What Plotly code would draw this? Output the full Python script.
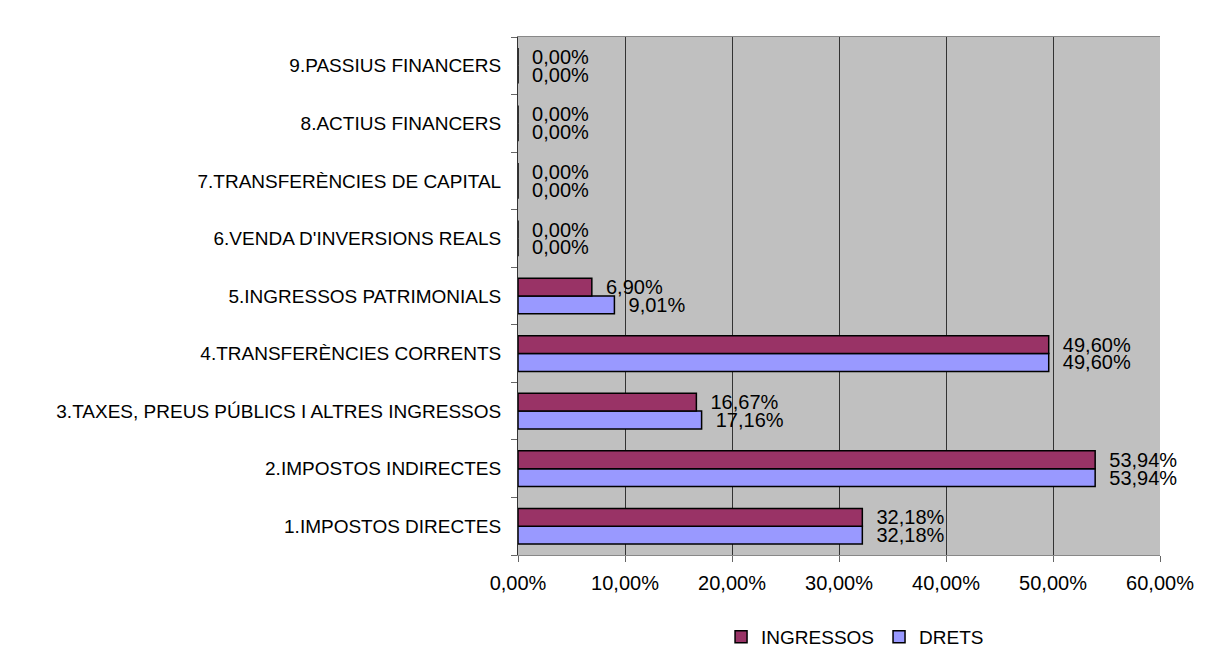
import plotly.graph_objects as go

categories = ["1.IMPOSTOS DIRECTES", "2.IMPOSTOS INDIRECTES",
              "3.TAXES, PREUS PÚBLICS I ALTRES INGRESSOS",
              "4.TRANSFERÈNCIES CORRENTS", "5.INGRESSOS PATRIMONIALS",
              "6.VENDA D'INVERSIONS REALS", "7.TRANSFERÈNCIES DE CAPITAL",
              "8.ACTIUS FINANCERS", "9.PASSIUS FINANCERS"]
ingressos = [32.18, 53.94, 16.67, 49.60, 6.90, 0.0, 0.0, 0.0, 0.0]
drets = [32.18, 53.94, 17.16, 49.60, 9.01, 0.0, 0.0, 0.0, 0.0]
xticks = [0, 10, 20, 30, 40, 50, 60]


def fmt(v):
    return f"{v:.2f}".replace(".", ",") + "%"


fig = go.Figure()
# drets first so it sits below ingressos inside each group
fig.add_trace(go.Bar(y=categories, x=drets, name="DRETS", orientation="h",
                     marker=dict(color="#9999FF", line=dict(color="black", width=1.5)),
                     text=["  " + fmt(v) for v in drets], textposition="outside",
                     constraintext="none",
                     textfont=dict(size=20, color="black"), cliponaxis=False))
fig.add_trace(go.Bar(y=categories, x=ingressos, name="INGRESSOS", orientation="h",
                     marker=dict(color="#993366", line=dict(color="black", width=1.5)),
                     text=["  " + fmt(v) for v in ingressos], textposition="outside",
                     constraintext="none",
                     textfont=dict(size=20, color="black"), cliponaxis=False))

fig.update_layout(
    width=1213, height=648,
    barmode="group", bargap=0.38, bargroupgap=0,
    plot_bgcolor="#C0C0C0", paper_bgcolor="white",
    margin=dict(l=510, r=61, t=29, b=101, autoexpand=False),
    font=dict(family="Arial, Liberation Sans, sans-serif", size=19, color="black"),
    showlegend=True,
    legend=dict(orientation="h", traceorder="reversed", x=0.525, xanchor="center",
                y=-0.158, yanchor="middle", font=dict(size=19), itemwidth=30),
    xaxis=dict(range=[0, 60], tickvals=xticks, ticktext=[fmt(v) for v in xticks],
               tickfont=dict(size=20),
               showgrid=True, gridcolor="#333333", gridwidth=1,
               ticks="outside", ticklen=6, tickcolor="#666666",
               showline=True, linecolor="#888888", mirror=True, zeroline=False,
               ticklabelstandoff=4),
    yaxis=dict(ticks="outside", ticklen=6, tickcolor="#666666",
               showline=True, linecolor="#333333", ticklabelstandoff=12,
               tickson="boundaries"),
)

fig.write_html("out.html")
